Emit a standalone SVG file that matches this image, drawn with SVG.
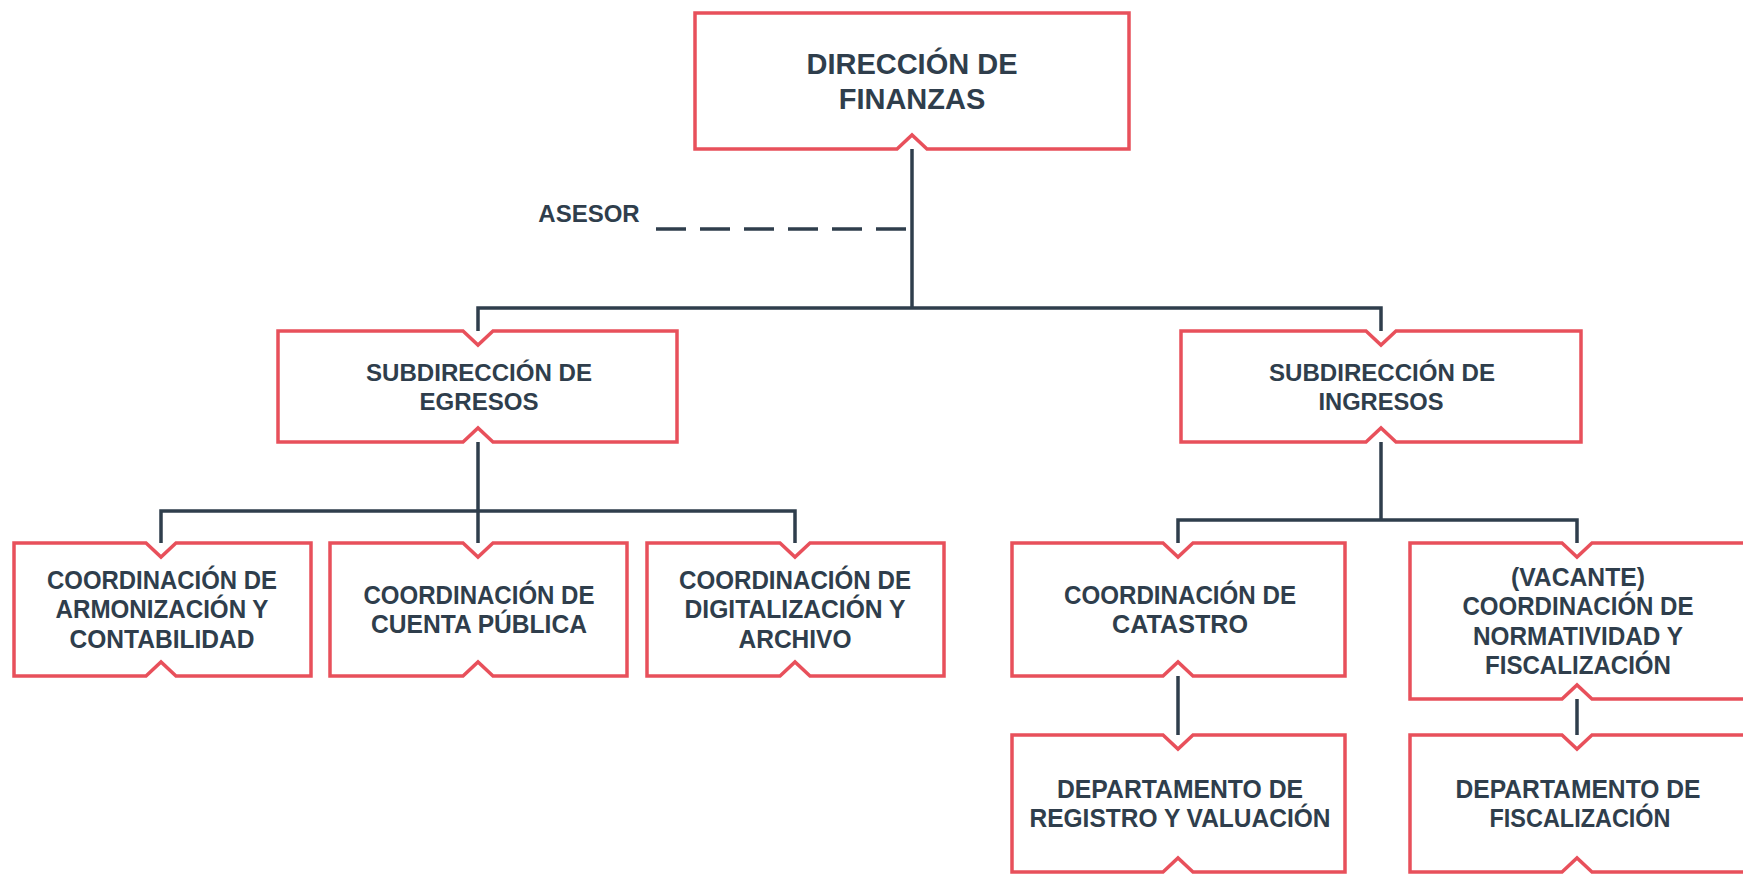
<svg xmlns="http://www.w3.org/2000/svg" width="1743" height="875" viewBox="0 0 1743 875">
<style>
.box{fill:#fff;stroke:#e8505b;stroke-width:3.5;stroke-linejoin:miter}
.ln{stroke:#2f3e4c;stroke-width:3.5;fill:none}
.t{font-family:"Liberation Sans",Arial,sans-serif;font-weight:bold;fill:#2f3e4c;text-anchor:middle}
.t29{font-size:29px}
.t21{font-size:23px}
.t26{font-size:26px}
</style>
<rect width="1743" height="875" fill="#fff"/>
<g id="connectors">
<line class="ln" x1="912" y1="149" x2="912" y2="308"/>
<line class="ln" x1="656" y1="229" x2="906" y2="229" stroke-dasharray="30 14"/>
<polyline class="ln" points="478,331 478,308 1381,308 1381,331"/>
<line class="ln" x1="478" y1="442" x2="478" y2="511"/>
<polyline class="ln" points="161,543 161,511 795,511 795,543"/>
<line class="ln" x1="478" y1="511" x2="478" y2="543"/>
<line class="ln" x1="1381" y1="442" x2="1381" y2="520"/>
<polyline class="ln" points="1178,543 1178,520 1577,520 1577,543"/>
<line class="ln" x1="1178" y1="676" x2="1178" y2="735"/>
<line class="ln" x1="1577" y1="699" x2="1577" y2="735"/>
</g>
<g id="asesor"><text class="t" x="589" y="222" font-size="24">ASESOR</text></g>
<g id="direccion">
<path class="box" d="M695 13 H1129 V149 H927 L912 135 L897 149 H695 Z"/>
<text class="t t29" x="912" y="74">DIRECCIÓN DE</text>
<text class="t t29" x="912" y="109">FINANZAS</text>
</g>
<g id="sub-egresos">
<path class="box" d="M278 331 H463 L478 345 L493 331 H677 V442 H493 L478 428 L463 442 H278 Z"/>
<text class="t t21" x="479" y="381" textLength="226" lengthAdjust="spacingAndGlyphs">SUBDIRECCIÓN DE</text>
<text class="t t21" x="479" y="410" textLength="119" lengthAdjust="spacingAndGlyphs">EGRESOS</text>
</g>
<g id="sub-ingresos">
<path class="box" d="M1181 331 H1366 L1381 345 L1396 331 H1581 V442 H1396 L1381 428 L1366 442 H1181 Z"/>
<text class="t t21" x="1382" y="381" textLength="226" lengthAdjust="spacingAndGlyphs">SUBDIRECCIÓN DE</text>
<text class="t t21" x="1381" y="410" textLength="125" lengthAdjust="spacingAndGlyphs">INGRESOS</text>
</g>
<g id="coord-armonizacion">
<path class="box" d="M14 543 H146 L161 557 L176 543 H311 V676 H176 L161 662 L146 676 H14 Z"/>
<text class="t t26" x="162" y="589" textLength="230" lengthAdjust="spacingAndGlyphs">COORDINACIÓN DE</text>
<text class="t t26" x="162" y="618" textLength="213" lengthAdjust="spacingAndGlyphs">ARMONIZACIÓN Y</text>
<text class="t t26" x="162" y="648" textLength="185" lengthAdjust="spacingAndGlyphs">CONTABILIDAD</text>
</g>
<g id="coord-cuenta">
<path class="box" d="M330 543 H463 L478 557 L493 543 H627 V676 H493 L478 662 L463 676 H330 Z"/>
<text class="t t26" x="479" y="604" textLength="231" lengthAdjust="spacingAndGlyphs">COORDINACIÓN DE</text>
<text class="t t26" x="479" y="633" textLength="216" lengthAdjust="spacingAndGlyphs">CUENTA PÚBLICA</text>
</g>
<g id="coord-digitalizacion">
<path class="box" d="M647 543 H780 L795 557 L810 543 H944 V676 H810 L795 662 L780 676 H647 Z"/>
<text class="t t26" x="795" y="589" textLength="232" lengthAdjust="spacingAndGlyphs">COORDINACIÓN DE</text>
<text class="t t26" x="795" y="618" textLength="221" lengthAdjust="spacingAndGlyphs">DIGITALIZACIÓN Y</text>
<text class="t t26" x="795" y="648" textLength="113" lengthAdjust="spacingAndGlyphs">ARCHIVO</text>
</g>
<g id="coord-catastro">
<path class="box" d="M1012 543 H1163 L1178 557 L1193 543 H1345 V676 H1193 L1178 662 L1163 676 H1012 Z"/>
<text class="t t26" x="1180" y="604" textLength="232" lengthAdjust="spacingAndGlyphs">COORDINACIÓN DE</text>
<text class="t t26" x="1180" y="633" textLength="136" lengthAdjust="spacingAndGlyphs">CATASTRO</text>
</g>
<g id="coord-normatividad">
<path class="box" d="M1410 543 H1562 L1577 557 L1592 543 H1746 V699 H1592 L1577 685 L1562 699 H1410 Z"/>
<text class="t t26" x="1578" y="586" textLength="134" lengthAdjust="spacingAndGlyphs">(VACANTE)</text>
<text class="t t26" x="1578" y="615" textLength="231" lengthAdjust="spacingAndGlyphs">COORDINACIÓN DE</text>
<text class="t t26" x="1578" y="645" textLength="210" lengthAdjust="spacingAndGlyphs">NORMATIVIDAD Y</text>
<text class="t t26" x="1578" y="674" textLength="186" lengthAdjust="spacingAndGlyphs">FISCALIZACIÓN</text>
</g>
<g id="dept-registro">
<path class="box" d="M1012 735 H1163 L1178 749 L1193 735 H1345 V872 H1193 L1178 858 L1163 872 H1012 Z"/>
<text class="t t26" x="1180" y="798" textLength="246" lengthAdjust="spacingAndGlyphs">DEPARTAMENTO DE</text>
<text class="t t26" x="1180" y="827" textLength="301" lengthAdjust="spacingAndGlyphs">REGISTRO Y VALUACIÓN</text>
</g>
<g id="dept-fiscalizacion">
<path class="box" d="M1410 735 H1562 L1577 749 L1592 735 H1746 V872 H1592 L1577 858 L1562 872 H1410 Z"/>
<text class="t t26" x="1578" y="798" textLength="245" lengthAdjust="spacingAndGlyphs">DEPARTAMENTO DE</text>
<text class="t t26" x="1580" y="827" textLength="181" lengthAdjust="spacingAndGlyphs">FISCALIZACIÓN</text>
</g>
</svg>
